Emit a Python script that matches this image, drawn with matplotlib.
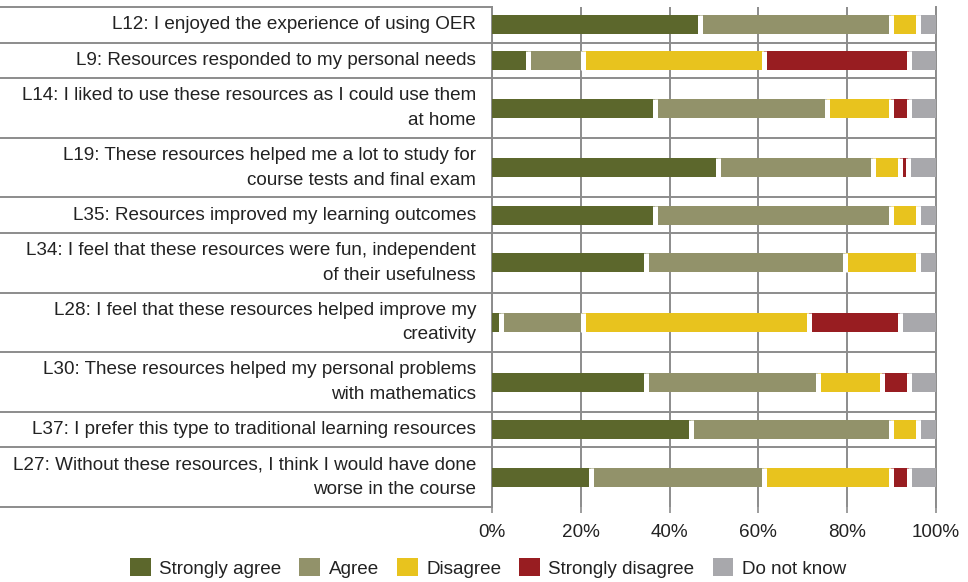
import matplotlib
matplotlib.use("Agg")
import matplotlib.pyplot as plt
from matplotlib.patches import Patch

plt.rcParams['font.family'] = ['Liberation Sans', 'DejaVu Sans']

labels = [
    "L12: I enjoyed the experience of using OER",
    "L9: Resources responded to my personal needs",
    "L14: I liked to use these resources as I could use them\nat home",
    "L19: These resources helped me a lot to study for\ncourse tests and final exam",
    "L35: Resources improved my learning outcomes",
    "L34: I feel that these resources were fun, independent\nof their usefulness",
    "L28: I feel that these resources helped improve my\ncreativity",
    "L30: These resources helped my personal problems\nwith mathematics",
    "L37: I prefer this type to traditional learning resources",
    "L27: Without these resources, I think I would have done\nworse in the course",
]

strongly_agree = [46.9, 8.2, 36.7, 51.0, 36.7, 34.7, 2.0, 34.7, 44.9, 22.4]
agree = [42.9, 12.2, 38.8, 34.7, 53.1, 44.9, 18.4, 38.8, 44.9, 38.8]
disagree = [6.1, 40.8, 14.3, 6.1, 6.1, 16.3, 51.0, 14.3, 6.1, 28.6]
strongly_disagree = [0.0, 32.7, 4.1, 2.0, 0.0, 0.0, 20.4, 6.1, 0.0, 4.1]
do_not_know = [4.1, 6.1, 6.1, 6.1, 4.1, 4.1, 8.2, 6.1, 4.1, 6.1]

series_names = ["Strongly agree", "Agree", "Disagree", "Strongly disagree", "Do not know"]
series = [strongly_agree, agree, disagree, strongly_disagree, do_not_know]
colors = ["#5c672c", "#92926a", "#e8c31e", "#981d21", "#a8a8ac"]
xticks = [0, 20, 40, 60, 80, 100]
xticklabels = ["0%", "20%", "40%", "60%", "80%", "100%"]

FS = 13.6
W, H = 968, 582
fig = plt.figure(figsize=(W / 100, H / 100), dpi=100)
ax_left, ax_right, ax_top, ax_bottom = 492, 936, 7, 507
ax = fig.add_axes([ax_left / W, (H - ax_bottom) / H, (ax_right - ax_left) / W, (ax_bottom - ax_top) / H])

# row heights: single-line rows shorter than two-line rows
heights = [1.0 if "\n" in lab else 0.6 for lab in labels]
bounds = [0.0]
for h in heights:
    bounds.append(bounds[-1] + h)
total = bounds[-1]
centers = [(bounds[i] + bounds[i + 1]) / 2 for i in range(len(labels))]
px_per_unit = (ax_bottom - ax_top) / total
bar_h = 19 / px_per_unit

lefts = [0.0] * len(labels)
for k, (name, vals, col) in enumerate(zip(series_names, series, colors)):
    ax.barh(centers, vals, left=lefts, height=bar_h, color=col,
            linewidth=0, zorder=3, label=name)
    lefts = [l + v for l, v in zip(lefts, vals)]
    if k < len(series) - 1:
        # white separators between adjacent segments
        ax.vlines(lefts, [c - bar_h / 2 for c in centers], [c + bar_h / 2 for c in centers],
                  colors="white", linewidth=3.6, zorder=4, capstyle="butt")

ax.set_xlim(0, 100)
ax.set_ylim(total, 0)
ax.set_yticks([])
ax.set_xticks(xticks)
ax.set_xticklabels(xticklabels, fontsize=FS, color="#222222")
ax.tick_params(axis="x", length=4, width=1.2, color="#8c8c8c", pad=8)

for s in ["top", "bottom"]:
    ax.spines[s].set_visible(False)
for s in ["left", "right"]:
    ax.spines[s].set_color("#8c8c8c")
    ax.spines[s].set_linewidth(1.4)

ax.grid(axis="x", color="#8c8c8c", linewidth=1.4, zorder=0)
ax.set_axisbelow(True)

ytrans = ax.get_yaxis_transform()
x0 = -ax_left / (ax_right - ax_left)
for i, b in enumerate(bounds):
    xend = 1.0 if 0 < i < len(bounds) - 1 else 0.0
    ax.plot([x0, xend], [b, b], color="#8c8c8c", linewidth=1.4,
            transform=ytrans, clip_on=False, zorder=1)

text_x = -16 / (ax_right - ax_left)
for c, lab in zip(centers, labels):
    ax.text(text_x, c, lab, transform=ytrans, ha="right", va="center",
            fontsize=FS, color="#222222", linespacing=1.6, multialignment="right")

handles = [Patch(facecolor=c, edgecolor="none") for c in colors]
fig.legend(handles, series_names, loc="center", bbox_to_anchor=(488 / W, 1 - 568 / H),
           ncol=5, frameon=False, fontsize=FS, handlelength=1.1, handleheight=1.1,
           handletextpad=0.45, columnspacing=0.95, labelcolor="#222222")

fig.savefig("out.png", dpi=100)
